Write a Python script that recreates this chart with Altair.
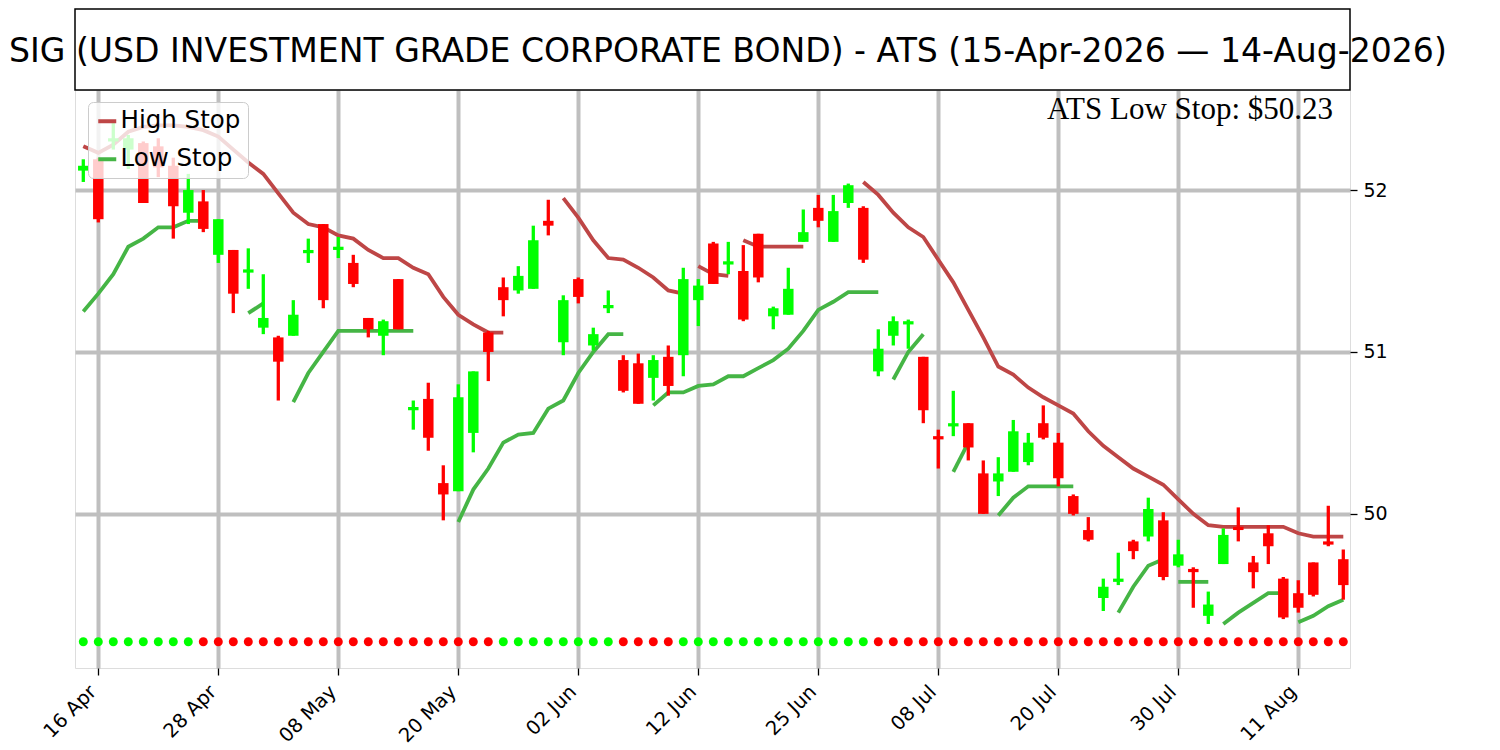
import json
import altair as alt
import pandas as pd

# ---------------- data ----------------
TITLE = "SIG (USD INVESTMENT GRADE CORPORATE BOND) - ATS (15-Apr-2026 \u2014 14-Aug-2026)"
NOTE = "ATS Low Stop: $50.23"

TICK_INDEX = [1, 9, 17, 25, 33, 41, 49, 57, 65, 73, 81]
TICK_LABELS = ["16 Apr", "28 Apr", "08 May", "20 May", "02 Jun", "12 Jun",
               "25 Jun", "08 Jul", "20 Jul", "30 Jul", "11 Aug"]

OPEN = [52.12, 52.19, 52.30, 52.25, 52.29, 52.27, 52.15, 51.86, 51.93, 51.60,
        51.63, 51.49, 51.15, 51.09, 51.10, 51.61, 51.79, 51.63, 51.55, 51.21,
        51.10, 51.45, 50.64, 50.71, 50.19, 50.14, 50.50, 51.12, 51.40, 51.38,
        51.39, 51.81, 51.06, 51.45, 51.04, 51.27, 50.95, 50.93, 50.84, 50.97,
        50.98, 51.32, 51.67, 51.54, 51.50, 51.73, 51.22, 51.23, 51.68, 51.89,
        51.68, 51.92, 51.89, 50.88, 51.10, 51.17, 50.97, 50.48, 50.54, 50.56,
        50.25, 50.20, 50.26, 50.32, 50.56, 50.44, 50.11, 49.90, 49.48, 49.58,
        49.83, 49.86, 49.96, 49.68, 49.66, 49.37, 49.69, 49.92, 49.70, 49.88,
        49.60, 49.51, 49.70, 49.83, 49.72]
CLOSE = [52.15, 51.82, 52.32, 52.32, 51.92, 52.14, 51.90, 52.00, 51.76, 51.82,
         51.36, 51.51, 51.21, 50.94, 51.23, 51.63, 51.32, 51.65, 51.42, 51.14,
         51.19, 51.14, 50.66, 50.47, 50.12, 50.72, 50.88, 51.00, 51.32, 51.47,
         51.69, 51.78, 51.32, 51.34, 51.11, 51.29, 50.76, 50.68, 50.95, 50.79,
         51.45, 51.41, 51.42, 51.56, 51.20, 51.46, 51.27, 51.39, 51.74, 51.81,
         51.87, 52.03, 51.57, 51.02, 51.19, 51.19, 50.64, 50.46, 50.56, 50.41,
         50.00, 50.25, 50.51, 50.44, 50.47, 50.22, 50.00, 49.84, 49.55, 49.60,
         49.77, 50.03, 49.61, 49.75, 49.64, 49.44, 49.87, 49.90, 49.64, 49.80,
         49.36, 49.42, 49.50, 49.81, 49.56]
HIGH = [52.19, 52.20, 52.42, 52.34, 52.30, 52.32, 52.20, 52.10, 52.00, 51.82,
        51.63, 51.64, 51.48, 51.10, 51.32, 51.70, 51.79, 51.71, 51.60, 51.21,
        51.20, 51.45, 50.70, 50.81, 50.30, 50.80, 50.88, 51.13, 51.46, 51.53,
        51.78, 51.94, 51.35, 51.46, 51.15, 51.38, 50.98, 50.99, 50.98, 51.04,
        51.52, 51.45, 51.68, 51.68, 51.66, 51.73, 51.28, 51.52, 51.88, 51.97,
        51.97, 52.04, 51.90, 51.14, 51.22, 51.20, 50.97, 50.52, 50.76, 50.56,
        50.33, 50.35, 50.58, 50.50, 50.67, 50.50, 50.12, 49.98, 49.60, 49.76,
        49.84, 50.10, 50.01, 49.84, 49.67, 49.52, 49.91, 50.04, 49.74, 49.93,
        49.61, 49.59, 49.70, 50.05, 49.78]
LOW = [52.05, 51.80, 52.25, 52.13, 51.92, 52.08, 51.70, 51.79, 51.74, 51.55,
       51.24, 51.39, 51.11, 50.70, 51.10, 51.55, 51.27, 51.58, 51.40, 51.09,
       50.98, 51.14, 50.52, 50.39, 49.96, 50.14, 50.38, 50.82, 51.22, 51.36,
       51.39, 51.72, 50.98, 51.30, 51.01, 51.24, 50.75, 50.68, 50.70, 50.73,
       50.85, 51.16, 51.42, 51.48, 51.19, 51.43, 51.14, 51.23, 51.68, 51.77,
       51.68, 51.89, 51.55, 50.85, 51.04, 51.02, 50.56, 50.28, 50.48, 50.33,
       50.00, 50.11, 50.26, 50.30, 50.46, 50.17, 49.99, 49.83, 49.40, 49.56,
       49.72, 49.83, 49.59, 49.67, 49.42, 49.32, 49.69, 49.83, 49.54, 49.69,
       49.35, 49.39, 49.49, 49.80, 49.47]

# stop lines: (first bar index, values) per drawn segment
HIGH_STOP_SEGS = [
    (0, [52.27, 52.23, 52.28, 52.36, 52.39, 52.40, 52.40, 52.39, 52.37, 52.33,
         52.25, 52.17, 52.10, 51.98, 51.86, 51.79, 51.77, 51.72, 51.70, 51.63,
         51.58, 51.58, 51.52, 51.48, 51.34, 51.23, 51.17, 51.12, 51.12]),
    (32, [51.95, 51.83, 51.69, 51.58, 51.57, 51.52, 51.46, 51.38, 51.36]),
    (41, [51.53, 51.48, 51.47]),
    (44, [51.69, 51.65, 51.65, 51.65, 51.65]),
    (52, [52.05, 51.97, 51.86, 51.77, 51.71, 51.57, 51.43, 51.26, 51.09, 50.91,
          50.86, 50.78, 50.72, 50.67, 50.62, 50.51, 50.42, 50.35, 50.28, 50.23,
          50.18, 50.09, 50.00, 49.93, 49.92, 49.92, 49.92, 49.92, 49.92, 49.88,
          49.86, 49.86, 49.86]),
]
LOW_STOP_SEGS = [
    (0, [51.25, 51.36, 51.48, 51.65, 51.70, 51.77, 51.77, 51.81, 51.81]),
    (11, [51.24, 51.30]),
    (14, [50.69, 50.87, 51.00, 51.13, 51.13, 51.13, 51.13, 51.13, 51.13]),
    (25, [49.95, 50.15, 50.28, 50.44, 50.49, 50.50, 50.65, 50.70, 50.87, 51.00,
          51.11, 51.11]),
    (38, [50.67, 50.75, 50.75, 50.79, 50.80, 50.85, 50.85, 50.90, 50.95, 51.02,
          51.13, 51.26, 51.31, 51.37, 51.37, 51.37]),
    (54, [50.83, 51.00, 51.11]),
    (58, [50.26, 50.44]),
    (61, [49.99, 50.10, 50.17, 50.17, 50.17, 50.17]),
    (69, [49.39, 49.55, 49.68, 49.72]),
    (73, [49.58, 49.58, 49.58]),
    (76, [49.32, 49.39, 49.45, 49.51, 49.51]),
    (81, [49.33, 49.37, 49.43, 49.47]),
]

# trend dots: G = up (green), R = down (red)
TREND = list("GGGGGGGG" + "R" * 20 + "G" * 8 + "RRRR" + "G" * 13 + "R" * 32)
DOT_LEVEL = 49.21

# ---------------- styling ----------------
GREEN = "#00ff00"
RED = "#ff0000"
HS_COLOR = "#be4646"
LS_COLOR = "#45b545"
GRID = "#bfbfbf"
W, H = 1275, 578

n = len(OPEN)
candles = pd.DataFrame({"i": list(range(n)), "open": OPEN, "high": HIGH,
                        "low": LOW, "close": CLOSE})
candles["col"] = [GREEN if c >= o else RED for o, c in zip(OPEN, CLOSE)]

dots = pd.DataFrame({"i": list(range(n)), "level": [DOT_LEVEL] * n,
                     "col": [GREEN if t == "G" else RED for t in TREND]})

rows = []
for name, segs in (("High Stop", HIGH_STOP_SEGS), ("Low Stop", LOW_STOP_SEGS)):
    for k, (start, vals) in enumerate(segs):
        for j, v in enumerate(vals):
            rows.append({"i": start + j, "value": v, "series": name,
                         "seg": f"{name}-{k}"})
stops = pd.DataFrame(rows)

label_map = json.dumps({str(p): l for p, l in zip(TICK_INDEX, TICK_LABELS)})

xscale = alt.Scale(domain=[-0.553, 84.447], nice=False, zero=False, padding=0)
yscale = alt.Scale(domain=[49.048, 52.618], nice=False, zero=False, padding=0)

xaxis = alt.Axis(values=TICK_INDEX, labelExpr=f"{label_map}[''+datum.value]",
                 labelAngle=315, labelAlign="right", labelBaseline="top",
                 labelFontSize=19.5, labelFont="DejaVu Sans", labelColor="black",
                 labelPadding=7, labelOffset=-12, labelOverlap=False, labelFlush=False,
                 tickColor="black", tickSize=7, tickWidth=1.3, domain=False,
                 grid=True, gridColor=GRID, gridWidth=4, gridOpacity=1, title=None)
yaxis = alt.Axis(orient="right", values=[50, 51, 52], format="d",
                 labelFontSize=19, labelFont="DejaVu Sans", labelColor="black",
                 labelPadding=6, tickColor="black", tickSize=7, tickWidth=1.3,
                 domain=False, grid=True, gridColor=GRID, gridWidth=4,
                 gridOpacity=1, title=None)

X = alt.X("i:Q", scale=xscale, axis=xaxis, title=None)

lines = alt.Chart(stops).mark_line(strokeWidth=3.8, strokeCap="butt").encode(
    x=X,
    y=alt.Y("value:Q", scale=yscale, axis=yaxis, title=None),
    color=alt.Color("series:N",
                    scale=alt.Scale(domain=["High Stop", "Low Stop"],
                                    range=[HS_COLOR, LS_COLOR]),
                    legend=alt.Legend(orient="none", legendX=13, legendY=12,
                                      title=None, labelFontSize=24.5,
                                      labelFont="DejaVu Sans", labelColor="black",
                                      symbolType="stroke", symbolStrokeWidth=4,
                                      symbolSize=324, labelOffset=1,
                                      rowPadding=13, padding=7,
                                      fillColor="rgba(255,255,255,0.8)",
                                      strokeColor="#cccccc", cornerRadius=5)),
    detail="seg:N",
    order="i:Q",
)

wicks = alt.Chart(candles).mark_rule(strokeWidth=3.3).encode(
    x=X,
    y=alt.Y("low:Q", scale=yscale, title=None),
    y2="high:Q",
    color=alt.Color("col:N", scale=None),
)

bodies = alt.Chart(candles).mark_bar(size=10.5).encode(
    x=X,
    y=alt.Y("open:Q", scale=yscale, title=None),
    y2="close:Q",
    color=alt.Color("col:N", scale=None),
)

dot_layer = alt.Chart(dots).mark_circle(size=80, opacity=1).encode(
    x=X,
    y=alt.Y("level:Q", scale=yscale, title=None),
    color=alt.Color("col:N", scale=None),
)

one = pd.DataFrame({"a": [0]})
title_box = alt.Chart(one).mark_rect(fill="white", stroke="black",
                                     strokeWidth=1.5).encode(
    x=alt.value(0), x2=alt.value(W), y=alt.value(-81), y2=alt.value(0))
title_text = alt.Chart(one).mark_text(text=TITLE, fontSize=33.1, font="DejaVu Sans",
                                      align="left", baseline="alphabetic",
                                      color="black").encode(
    x=alt.value(-66), y=alt.value(-28))
note_text = alt.Chart(one).mark_text(text=NOTE, fontSize=31, font="Liberation Serif",
                                     align="right", baseline="alphabetic",
                                     color="black").encode(
    x=alt.value(1258), y=alt.value(29))

chart = alt.layer(lines, wicks, bodies, dot_layer, title_box, title_text,
                  note_text).resolve_scale(color="independent").properties(
    width=W, height=H,
    padding={"left": 67, "top": 82, "right": 140, "bottom": 80},
    autosize=alt.AutoSizeParams(type="none"),
).configure_view(stroke="black", strokeWidth=1.5).configure(background="white")

chart.save("out.html", embed_options={"renderer": "svg", "actions": False})
